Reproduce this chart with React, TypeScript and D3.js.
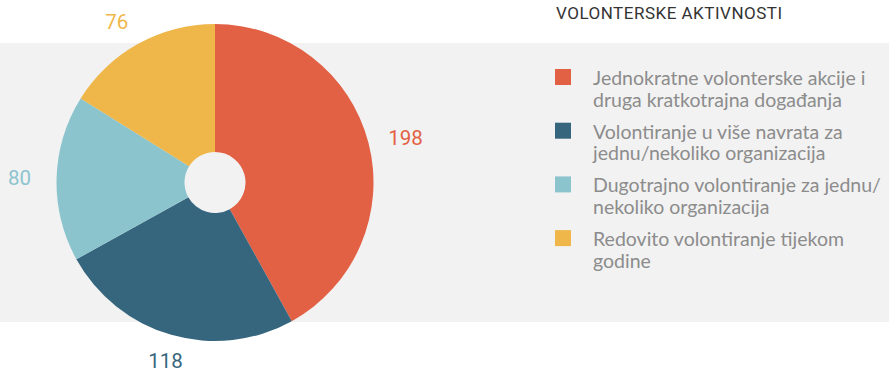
import React, { useEffect } from "react";
import * as d3 from "d3";

const categories = [
  ["Jednokratne volonterske akcije i", "druga kratkotrajna događanja"],
  ["Volontiranje u više navrata za", "jednu/nekoliko organizacija"],
  ["Dugotrajno volontiranje za jednu/", "nekoliko organizacija"],
  ["Redovito volontiranje tijekom", "godine"],
];
const values = [198, 118, 80, 76];
const colors = ["#E26044", "#36667E", "#8CC4CE", "#EFB74A"];
const title = "VOLONTERSKE AKTIVNOSTI";

const W = 889;
const H = 372;

export default function App() {
  useEffect(() => {
    document.body.style.margin = "0";
  }, []);

  const cx = 215;
  const cy = 182.5;
  const R = 158.5;
  const r0 = 30.5;
  const labelR = 179;

  const pie = d3.pie<number>().sort(null).value((d) => d)(values);
  const arc = d3.arc<d3.PieArcDatum<number>>().innerRadius(r0).outerRadius(R);

  return (
    <svg width={W} height={H} style={{ display: "block" }}>
      <rect x={0} y={43} width={W} height={279} fill="#f2f2f2" />
      <g transform={`translate(${cx},${cy})`}>
        {pie.map((p, i) => (
          <path key={i} d={arc(p) || ""} fill={colors[i]} />
        ))}
        {pie.map((p, i) => {
          const a = (p.startAngle + p.endAngle) / 2;
          const s = Math.sin(a);
          const c = Math.cos(a);
          const x = s * labelR;
          const y = -c * labelR;
          const anchor = s > 0.3 ? "start" : s < -0.3 ? "end" : "middle";
          const dy = c > 0.5 ? 3.5 : c < -0.5 ? 13 : 7.5;
          const dx = anchor === "end" && Math.abs(c) < 0.5 ? -5 : 0;
          return (
            <text
              key={i}
              x={x + dx}
              y={y + dy}
              textAnchor={anchor}
              fill={colors[i]}
              fontFamily="Roboto, sans-serif"
              fontSize={20.5}
            >
              {values[i]}
            </text>
          );
        })}
      </g>
      <text
        x={556}
        y={19}
        fontFamily="Roboto, sans-serif"
        fontSize={17}
        letterSpacing={0.5}
        fill="#333"
      >
        {title}
      </text>
      {categories.map((lines, i) => {
        const top = 69 + i * 53.7;
        return (
          <g key={i}>
            <rect x={555} y={top} width={16} height={16} fill={colors[i]} />
            {lines.map((ln, j) => (
              <text
                key={j}
                x={593}
                y={top + 16 + j * 21.5}
                fontFamily="Lato, sans-serif"
                fontSize={19.5}
                fill="#8c8c8c"
              >
                {ln}
              </text>
            ))}
          </g>
        );
      })}
    </svg>
  );
}
